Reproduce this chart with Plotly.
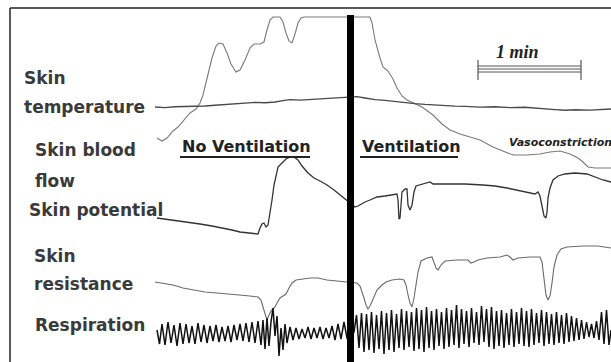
import plotly.graph_objects as go

# ---------------- data (time units ~ px of recording, values in chart units, y downward) -------------
bf_t = [157, 162, 167, 173, 178, 184, 190, 196, 200, 203, 207, 212, 216, 219, 223, 227, 231, 236, 240, 245,
        250, 254, 260, 264, 267, 270, 273, 280, 283, 286, 289, 292, 295, 298, 301, 304, 345, 370, 372, 375,
        380, 383, 388, 393, 397, 402, 407, 414, 422, 433, 442, 450, 460, 470, 480, 493, 505, 513, 527, 540,
        550, 560, 570, 578, 583, 588, 595, 611]
bf_v = [138, 141, 138, 131, 127, 120, 113, 109, 103, 95, 78, 58, 46, 43, 44, 53, 64, 72, 70, 60,
        48, 44, 44, 42, 30, 20, 17, 17, 22, 33, 41, 43, 34, 23, 18, 17, 17, 17, 23, 40,
        58, 67, 71, 79, 88, 96, 100, 103, 107, 115, 124, 130, 134, 137, 140, 147, 152, 155, 155, 154,
        152, 151, 154, 158, 162, 167, 168, 168]

st_t = [155, 165, 175, 185, 195, 205, 215, 225, 235, 245, 255, 265, 275, 283, 290, 300, 310, 320, 330, 340,
        350, 357, 365, 375, 385, 395, 405, 415, 425, 435, 445, 455, 465, 480, 495, 510, 525, 540, 555, 565,
        575, 590, 600, 611]
st_v = [107, 107.6, 106.8, 106.6, 106.9, 106, 105.2, 104.6, 103.4, 103.2, 102.4, 102.8, 102, 100.6, 99.6, 100.1, 99.4, 99.1, 98.4, 97.6,
        97, 96.6, 98, 99.6, 100.4, 101.6, 102.4, 103.6, 104.4, 105.1, 105.4, 106.1, 106.4, 107.1, 106.8, 107.6, 107.3, 108.1, 109.6, 110.2,
        109.8, 110.1, 109.4, 109]

sp_t = [157, 165, 173, 182, 190, 200, 212, 223, 232, 240, 250, 258, 260, 262, 264, 266, 268, 270, 272, 274,
        276, 278, 282, 286, 290, 294, 298, 302, 308, 314, 320, 327, 334, 340, 347, 355, 358, 361, 365, 370,
        377, 385, 393, 397, 398, 399, 400, 401, 402, 405, 407, 408, 410, 412, 414, 416, 422, 430, 433, 440,
        450, 465, 483, 495, 507, 517, 527, 535, 538, 540, 542, 544, 546, 547, 548, 550, 553, 558, 565, 575,
        587, 595, 603, 611]
sp_v = [218, 219, 220, 221, 222, 224, 226, 228, 230, 232, 233, 234, 228, 224, 223, 227, 225, 214, 200, 185,
        174, 167, 163, 159, 157, 157, 160, 166, 173, 178, 181, 185, 190, 195, 200, 207, 206, 204, 202, 200,
        197, 196, 195, 194, 200, 219, 218, 208, 192, 189, 189, 205, 210, 205, 192, 186, 184, 182, 184, 184,
        184, 184, 185, 186, 188, 190, 192, 194, 192, 196, 206, 216, 218, 212, 198, 188, 180, 176, 174, 173,
        174, 177, 180, 182]

sr_t = [155, 165, 173, 183, 193, 205, 217, 230, 240, 250, 258, 261, 263, 265, 267, 269, 271, 273, 275, 277,
        280, 283, 286, 289, 292, 296, 302, 310, 318, 327, 337, 347, 357, 360, 362, 364, 366, 368, 370, 373,
        377, 382, 386, 392, 400, 404, 406, 408, 410, 412, 414, 416, 418, 421, 427, 432, 434, 436, 438, 441,
        445, 457, 468, 471, 474, 478, 487, 500, 507, 510, 513, 518, 530, 540, 542, 544, 546, 548, 550, 552,
        554, 557, 561, 567, 583, 598, 607, 611]
sr_v = [282, 284, 285, 288, 290, 292, 293, 294, 295, 296, 297, 300, 307, 315, 320, 315, 311, 309, 307, 303,
        298, 296, 294, 288, 283, 280, 279, 278, 278, 280, 281, 282, 283, 286, 291, 298, 305, 309, 306, 299,
        290, 285, 282, 280, 279, 280, 285, 295, 303, 307, 298, 285, 272, 261, 258, 257, 263, 268, 270, 265,
        261, 260, 260, 263, 262, 260, 258, 257, 255, 257, 260, 258, 257, 257, 262, 278, 295, 300, 296, 283,
        267, 255, 249, 247, 246, 246, 247, 248]

resp_t = [157, 159.5, 162, 165, 168, 171, 174, 177, 180, 183, 186, 189, 192, 195, 198, 201, 204, 207, 210, 213,
          216, 219, 222, 225, 228, 231, 234, 237, 240, 243, 246, 249, 252, 255, 258, 261, 263, 265, 267, 269,
          271, 273, 275, 277, 279, 281, 283, 285, 287, 290, 293, 296, 299, 302, 305, 308, 311, 314, 317, 320,
          323, 326, 329, 332, 335, 338, 341, 344, 347,
          354, 356.5, 359, 361.5, 364, 366.5, 369, 371.5, 374, 376.5, 379, 381.5, 384, 386.5, 389, 391.5, 394, 396.5, 399, 401.5,
          404, 406.5, 409, 411.5, 414, 416.5, 419, 421.5, 424, 426.5, 429, 431.5, 434, 436.5, 439, 441.5, 444, 446.5, 449, 451.5,
          454, 456.5, 459, 461.5, 464, 466.5, 469, 471.5, 474, 476.5, 479, 481.5, 484, 486.5, 489, 491.5, 494, 496.5, 499, 501.5,
          504, 506.5, 509, 511.5, 514, 516.5, 519, 521.5, 524, 526.5, 529, 531.5, 534, 536.5, 539, 541.5, 544, 546.5, 549, 551.5,
          554, 556.5, 559, 561.5, 564, 566.5, 569, 571.5, 574, 576.5, 579, 581.5, 584, 586.5, 589, 591.5, 594, 596.5, 599, 601.5,
          604, 606.5, 609, 611]
resp_v = [330, 344, 324, 345, 322, 343, 325, 346, 323, 344, 324, 343, 326, 344, 323, 342, 325, 343, 326, 341,
          325, 342, 327, 341, 326, 342, 325, 340, 324, 341, 323, 342, 322, 343, 321, 345, 320, 349, 318, 346,
          322, 308, 336, 316, 356, 328, 350, 324, 343, 327, 340, 328, 339, 329, 338, 327, 339, 328, 338, 327,
          339, 328, 338, 326, 340, 324, 339, 322, 338,
          332, 315, 348, 313, 352, 314, 350, 312, 353, 315, 349, 311, 354, 313, 350, 310, 352, 314, 348, 309,
          350, 311, 347, 312, 351, 308, 349, 310, 352, 307, 348, 311, 350, 309, 346, 312, 349, 308, 347, 310,
          345, 305, 348, 309, 344, 311, 347, 308, 343, 312, 345, 306, 342, 309, 347, 307, 349, 311, 346, 310,
          348, 313, 345, 309, 347, 312, 344, 308, 346, 311, 347, 309, 345, 313, 343, 310, 346, 312, 344, 314,
          345, 312, 343, 315, 344, 313, 342, 316, 341, 318, 340, 320, 339, 322, 337, 324, 338, 321, 340, 312,
          344, 310, 345, 330]

row_labels = ["Skin", "temperature", "Skin blood", "flow", "Skin potential", "Skin", "resistance", "Respiration"]
row_label_x = [22, 22, 33, 33, 27, 32, 32, 33]
row_label_y = [78, 107, 150, 181, 210, 256, 284, 325]

phase_labels = ["No Ventilation", "Ventilation"]
phase_x = [180, 360]
phase_end = [310, 458]
phase_y = 146

# ---------------- figure -------------
fig = go.Figure()

fig.add_trace(go.Scatter(x=bf_t, y=bf_v, mode="lines", line=dict(color="#7a7a7a", width=1.1), hoverinfo="skip"))
fig.add_trace(go.Scatter(x=st_t, y=st_v, mode="lines", line=dict(color="#4a4a4a", width=1.4), hoverinfo="skip"))
fig.add_trace(go.Scatter(x=sp_t, y=sp_v, mode="lines", line=dict(color="#333333", width=1.3), hoverinfo="skip"))
fig.add_trace(go.Scatter(x=sr_t, y=sr_v, mode="lines", line=dict(color="#6a6a6a", width=1.1), hoverinfo="skip"))
fig.add_trace(go.Scatter(x=resp_t, y=resp_v, mode="lines", line=dict(color="#111111", width=1.5), hoverinfo="skip"))

shapes = []
# frame (top and left)
shapes.append(dict(type="line", x0=10, x1=611, y0=8, y1=8, line=dict(color="#222", width=1.5)))
shapes.append(dict(type="line", x0=10, x1=10, y0=8, y1=362, line=dict(color="#222", width=1.5)))
# ventilation onset bar
shapes.append(dict(type="rect", x0=347, x1=354, y0=15, y1=362, fillcolor="#000", line=dict(width=0)))
# underlines
for x0, x1 in zip(phase_x, phase_end):
    shapes.append(dict(type="line", x0=x0, x1=x1, y0=157, y1=157, line=dict(color="#222", width=2)))
# 1 min scale bar
for yy in (66, 69, 72):
    shapes.append(dict(type="line", x0=478, x1=581, y0=yy, y1=yy, line=dict(color="#555", width=1)))
for xx in (478, 581):
    shapes.append(dict(type="line", x0=xx, x1=xx, y0=60, y1=80, line=dict(color="#555", width=1.2)))

annotations = []
for txt, x, y in zip(row_labels, row_label_x, row_label_y):
    annotations.append(dict(x=x, y=y, text="<b>%s</b>" % txt, showarrow=False, xanchor="left", yanchor="middle",
                            font=dict(family="DejaVu Sans", size=17, color="#3a3a3a")))
for txt, x in zip(phase_labels, phase_x):
    annotations.append(dict(x=x, y=phase_y, text="<b>%s</b>" % txt, showarrow=False, xanchor="left", yanchor="middle",
                            font=dict(family="DejaVu Sans", size=16, color="#222")))
annotations.append(dict(x=494, y=52, text="<b><i>1 min</i></b>", showarrow=False, xanchor="left", yanchor="middle",
                        font=dict(family="Liberation Serif", size=18, color="#222")))
annotations.append(dict(x=507, y=142, text="<b><i>Vasoconstriction</i></b>", showarrow=False, xanchor="left",
                        yanchor="middle", font=dict(family="DejaVu Sans", size=11, color="#222")))

fig.update_layout(
    width=611, height=362,
    margin=dict(l=0, r=0, t=0, b=0),
    paper_bgcolor="white", plot_bgcolor="white",
    showlegend=False,
    shapes=shapes, annotations=annotations,
    xaxis=dict(range=[0, 611], visible=False, fixedrange=True),
    yaxis=dict(range=[362, 0], visible=False, fixedrange=True),
)

fig.write_html("out.html", config={"displayModeBar": False},
               post_script="document.body.style.margin='0';document.body.style.overflow='hidden';")
